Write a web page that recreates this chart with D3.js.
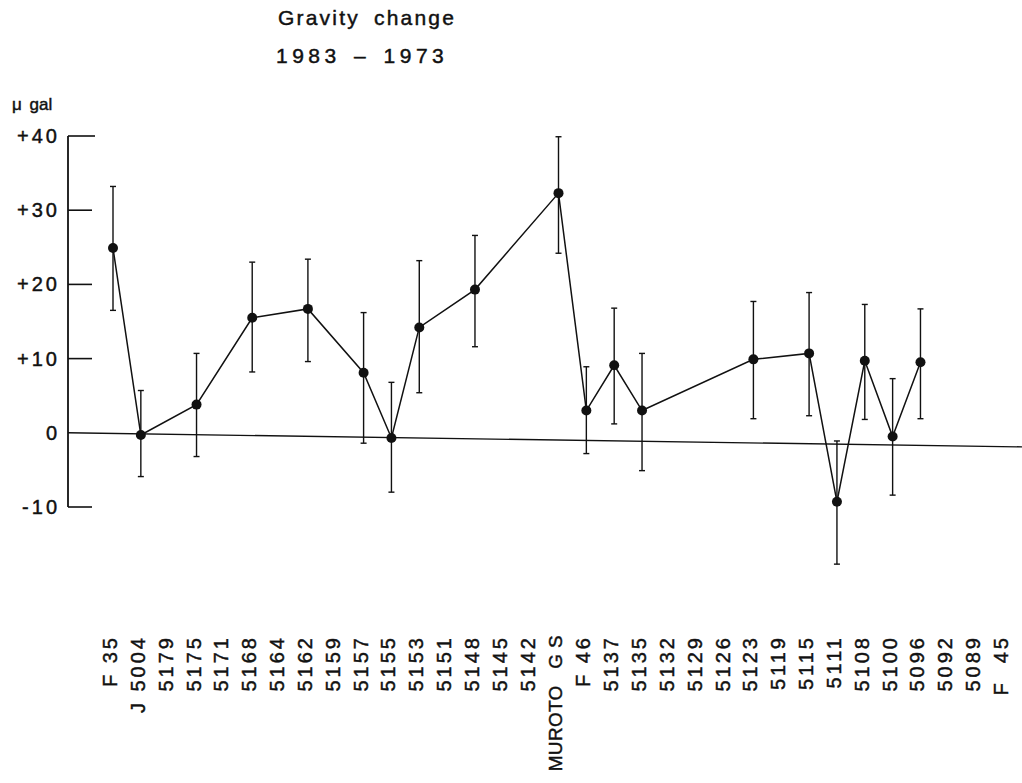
<!DOCTYPE html>
<html>
<head>
<meta charset="utf-8">
<script src="https://cdn.jsdelivr.net/npm/d3@7"></script>
<style>
  body { margin: 0; background: #fff; }
  text { font-family: "Liberation Sans", Arial, sans-serif; fill: #111; stroke: #111; stroke-width: 0.45px; white-space: pre; }
</style>
</head>
<body>
<div id="chart"></div>
<script>
var stations = ["F 35", "J 5004", "5179", "5175", "5171", "5168", "5164", "5162", "5159", "5157",
    "5155", "5153", "5151", "5148", "5145", "5142", "MUROTO   G S", "F 46", "5137", "5135",
    "5132", "5129", "5126", "5123", "5119", "5115", "5111", "5108", "5100", "5096",
    "5092", "5089", "F  45"];

// gravity change (micro gal), null where no value
var change = [24.9, -0.3, null, 3.8, null, 15.5, null, 16.7, null, 8.1,
    -0.7, 14.2, null, 19.3, null, null, 32.3, 3.0, 9.1, 3.0,
    null, null, null, 9.9, null, 10.7, -9.3, 9.7, -0.5, 9.5,
    null, null, null];
var errHigh = [33.2, 5.7, null, 10.7, null, 23.0, null, 23.4, null, 16.2,
    6.8, 23.2, null, 26.6, null, null, 39.9, 8.9, 16.8, 10.7,
    null, null, null, 17.7, null, 18.9, -1.1, 17.3, 7.3, 16.7,
    null, null, null];
var errLow = [16.5, -5.9, null, -3.2, null, 8.2, null, 9.6, null, -1.4,
    -8.0, 5.4, null, 11.6, null, null, 24.2, -2.8, 1.2, -5.1,
    null, null, null, 1.9, null, 2.3, -17.7, 1.8, -8.4, 1.9,
    null, null, null];

var yTicks = [40, 30, 20, 10, 0, -10];
var yTickLabels = ["+40", "+30", "+20", "+10", "0", "-10"];
var baseline = [0, -1.9]; // zero line as drawn (slightly tilted in the original)

var width = 1022, height = 783;

var svg = d3.select("#chart").append("svg")
    .attr("width", width)
    .attr("height", height);

var x = d3.scalePoint().domain(d3.range(stations.length)).range([113, 1004]);
var y = d3.scaleLinear().domain([-10, 40]).range([507, 136]);

var axisX = 68;

// titles
svg.append("text")
    .attr("x", 278).attr("y", 25)
    .style("font-size", "21px")
    .style("letter-spacing", "2.2px")
    .style("word-spacing", "6px")
    .text("Gravity change");

svg.append("text")
    .attr("x", 276).attr("y", 63)
    .style("font-size", "21px")
    .style("letter-spacing", "4.5px")
    .style("word-spacing", "3px")
    .text("1983 \u2013 1973");

svg.append("text")
    .attr("x", 12).attr("y", 110)
    .style("font-size", "17px")
    .style("word-spacing", "3px")
    .text("\u03bc gal");

// y axis
svg.append("line")
    .attr("x1", axisX).attr("x2", axisX)
    .attr("y1", y(40)).attr("y2", y(-10))
    .attr("stroke", "#111").attr("stroke-width", 1.8);

var tick = svg.selectAll(".ytick")
    .data(yTicks)
    .enter().append("g")
    .attr("class", "ytick");

tick.filter(function(d) { return d !== 0; })
    .append("line")
    .attr("x1", axisX).attr("x2", function(d) { return d === 40 ? 95 : 92; })
    .attr("y1", y).attr("y2", y)
    .attr("stroke", "#111").attr("stroke-width", 1.6);

tick.append("text")
    .attr("x", 60)
    .attr("y", y)
    .attr("dy", "0.35em")
    .attr("text-anchor", "end")
    .style("font-size", "20px")
    .style("letter-spacing", "3px")
    .text(function(d, i) { return yTickLabels[i]; });

// zero line
svg.append("line")
    .attr("x1", axisX).attr("x2", width)
    .attr("y1", y(baseline[0])).attr("y2", y(baseline[1]))
    .attr("stroke", "#111").attr("stroke-width", 1.4);

// station labels
svg.selectAll(".xlab")
    .data(stations)
    .enter().append("text")
    .attr("class", "xlab")
    .attr("transform", function(d, i) { return "translate(" + (x(i) - 3) + ",635)rotate(-90)"; })
    .attr("dy", "0.35em")
    .attr("text-anchor", "end")
    .style("font-size", function(d) { return d.length > 6 ? "19px" : "20px"; })
    .style("letter-spacing", function(d) { return d.length > 6 ? "0.3px" : "3px"; })
    .text(function(d) { return d; });

var pts = change.map(function(v, i) {
    return {i: i, v: v, hi: errHigh[i], lo: errLow[i]};
}).filter(function(d) { return d.v !== null; });

// error bars
var eb = svg.selectAll(".err")
    .data(pts)
    .enter().append("g")
    .attr("class", "err")
    .attr("stroke", "#111")
    .attr("stroke-width", 1.4);

eb.append("line")
    .attr("x1", function(d) { return x(d.i); })
    .attr("x2", function(d) { return x(d.i); })
    .attr("y1", function(d) { return y(d.hi); })
    .attr("y2", function(d) { return y(d.lo); });

eb.append("line")
    .attr("x1", function(d) { return x(d.i) - 3; })
    .attr("x2", function(d) { return x(d.i) + 3; })
    .attr("y1", function(d) { return y(d.hi); })
    .attr("y2", function(d) { return y(d.hi); });

eb.append("line")
    .attr("x1", function(d) { return x(d.i) - 3; })
    .attr("x2", function(d) { return x(d.i) + 3; })
    .attr("y1", function(d) { return y(d.lo); })
    .attr("y2", function(d) { return y(d.lo); });

// connecting line
var line = d3.line()
    .x(function(d) { return x(d.i); })
    .y(function(d) { return y(d.v); });

svg.append("path")
    .datum(pts)
    .attr("fill", "none")
    .attr("stroke", "#111")
    .attr("stroke-width", 1.5)
    .attr("d", line);

svg.selectAll(".dot")
    .data(pts)
    .enter().append("circle")
    .attr("class", "dot")
    .attr("cx", function(d) { return x(d.i); })
    .attr("cy", function(d) { return y(d.v); })
    .attr("r", 5)
    .attr("fill", "#111");
</script>
</body>
</html>
